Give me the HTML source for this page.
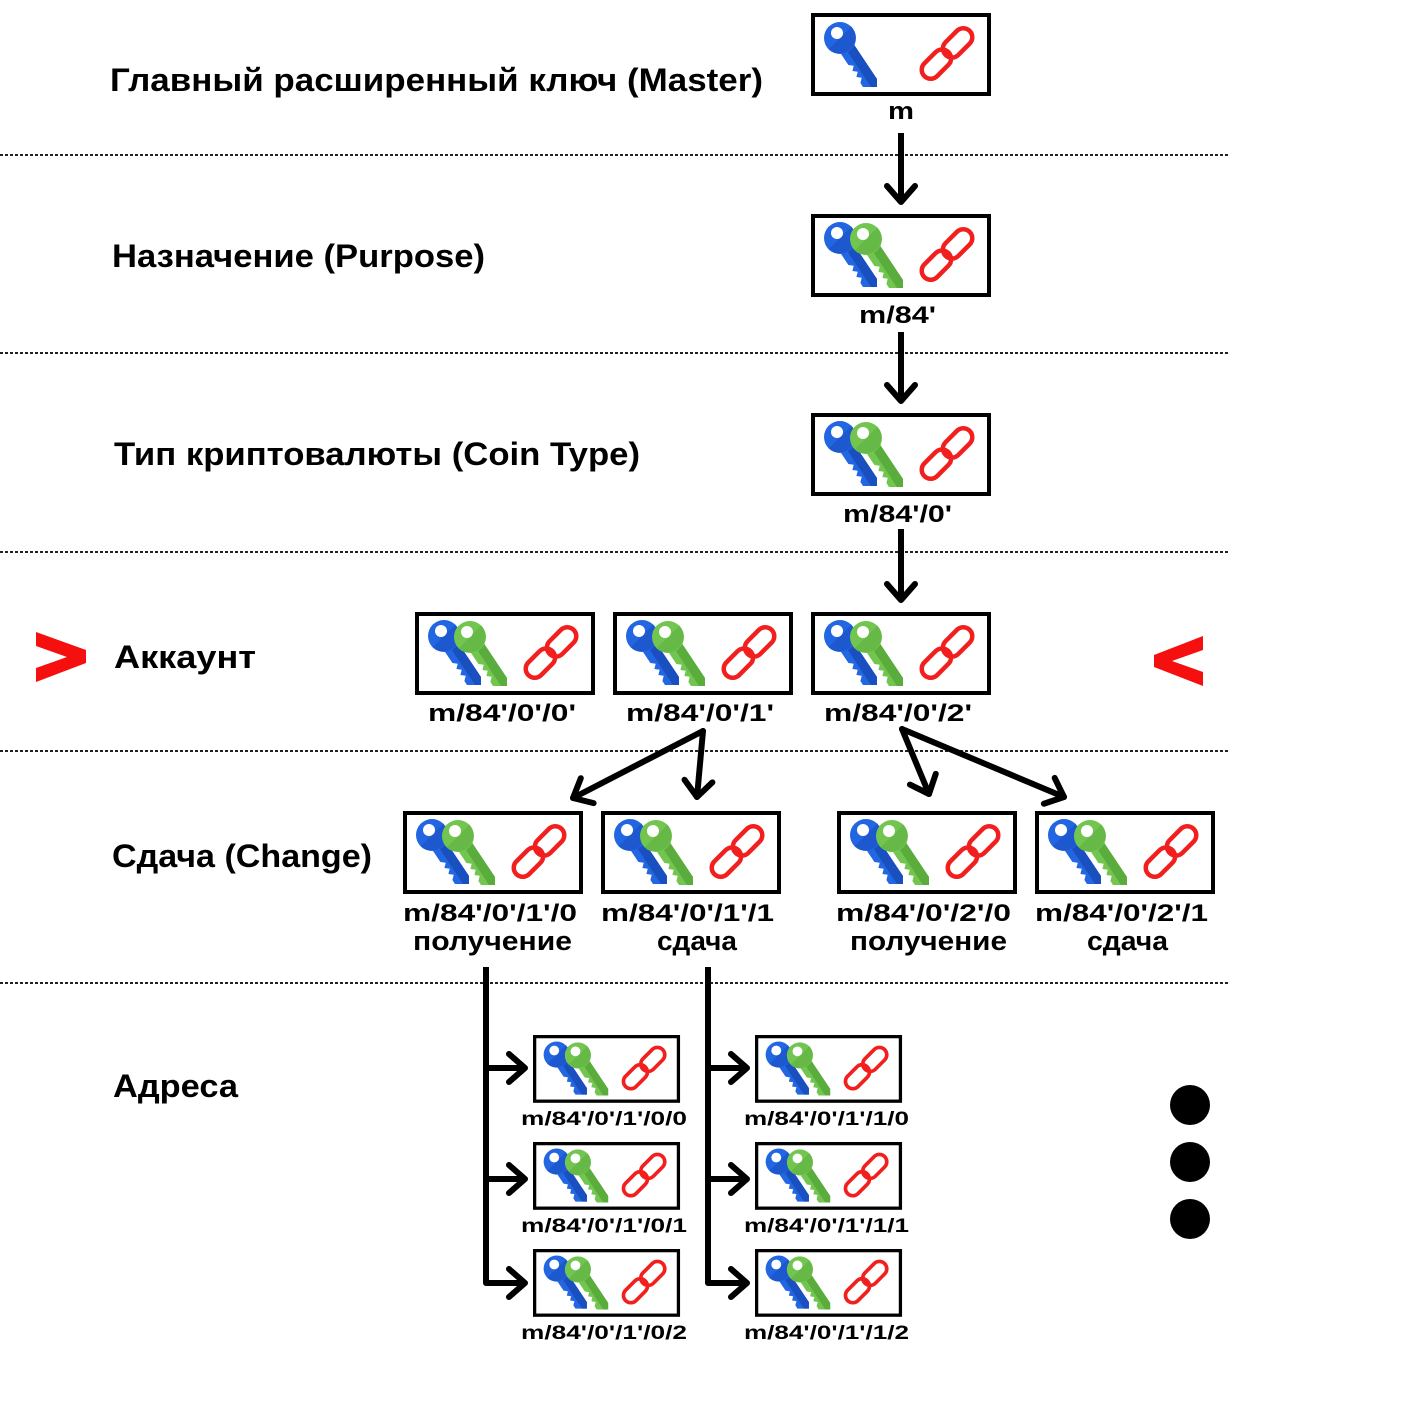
<!DOCTYPE html>
<html>
<head>
<meta charset="utf-8">
<style>
  html,body{margin:0;padding:0;background:#fff;}
  svg{display:block;}
  text{font-family:"Liberation Sans","DejaVu Sans",sans-serif;font-weight:bold;fill:#000;}
</style>
</head>
<body>
<svg width="1428" height="1428" viewBox="0 0 1428 1428" xmlns="http://www.w3.org/2000/svg">
  <defs>
    <marker id="ah" markerUnits="userSpaceOnUse" markerWidth="40" markerHeight="40" viewBox="-20 -20 40 40" refX="0" refY="0" orient="auto" overflow="visible">
      <path d="M-16,-14 L0,0 L-16,14" fill="none" stroke="#000" stroke-width="6" stroke-linecap="round" stroke-linejoin="round"/>
    </marker>
    <g id="kb">
      <polygon fill="#2266e2" points="-6.7,4.4 6.7,-4.4 37,41 37,49 23,49 20.4,45 21.7,39.8 16.4,39 17.7,33.8 12.4,33 13.7,27.8 8.4,27"/>
      <polygon fill="#1a4fbf" points="0,2 6.7,-4.4 37,41 37,49 31,49"/>
      <circle r="16" fill="#2266e2"/>
      <path d="M11.3,-11.3 A16,16 0 0 1 -11.3,11.3 Z" fill="#1d58cf"/>
      <circle cx="-3" cy="-5" r="6" fill="#fff"/>
    </g>
    <g id="kg">
      <polygon fill="#72c650" points="-6.7,4.4 6.7,-4.4 37,41 37,49 23,49 20.4,45 21.7,39.8 16.4,39 17.7,33.8 12.4,33 13.7,27.8 8.4,27"/>
      <polygon fill="#5aad3c" points="0,2 6.7,-4.4 37,41 37,49 31,49"/>
      <circle r="16" fill="#72c650"/>
      <path d="M11.3,-11.3 A16,16 0 0 1 -11.3,11.3 Z" fill="#66b947"/>
      <circle cx="-3" cy="-5" r="6" fill="#fff"/>
    </g>
    <g id="ch" fill="none" stroke="#f21f1f" stroke-width="4.5">
      <rect x="-17" y="-9" width="34" height="18" rx="9" transform="translate(125.4,51.1) rotate(-45)"/>
      <rect x="-17" y="-9" width="34" height="18" rx="9" transform="translate(146.6,29.9) rotate(-45)"/>
    </g>
    <g id="b1">
      <rect x="2" y="2" width="176" height="79" fill="#fff" stroke="#000" stroke-width="4"/>
      <use href="#kb" x="29" y="25"/>
      <use href="#ch"/>
    </g>
    <g id="b2">
      <rect x="2" y="2" width="176" height="79" fill="#fff" stroke="#000" stroke-width="4"/>
      <use href="#kb" x="29" y="24"/>
      <use href="#kg" x="55" y="25"/>
      <use href="#ch"/>
    </g>
  </defs>

  <!-- dotted separators -->
  <g stroke="#222" stroke-width="2" stroke-dasharray="3 2">
    <line x1="0" y1="155" x2="1230" y2="155"/>
    <line x1="0" y1="353" x2="1230" y2="353"/>
    <line x1="0" y1="552" x2="1230" y2="552"/>
    <line x1="0" y1="751" x2="1230" y2="751"/>
    <line x1="0" y1="983" x2="1230" y2="983"/>
  </g>

  <!-- left labels -->
  <g font-size="32">
    <text x="110" y="91" textLength="653" lengthAdjust="spacingAndGlyphs">Главный расширенный ключ (Master)</text>
    <text x="112" y="267" textLength="373" lengthAdjust="spacingAndGlyphs">Назначение (Purpose)</text>
    <text x="114" y="465" textLength="526" lengthAdjust="spacingAndGlyphs">Тип криптовалюты (Coin Type)</text>
    <text x="114" y="668" textLength="142" lengthAdjust="spacingAndGlyphs">Аккаунт</text>
    <text x="112" y="867" textLength="260" lengthAdjust="spacingAndGlyphs">Сдача (Change)</text>
    <text x="113" y="1097" textLength="125" lengthAdjust="spacingAndGlyphs">Адреса</text>
  </g>

  <!-- red chevrons -->
  <polygon fill="#f50f0f" points="36,632 86,650 86,663 36,682 36,668 67,657 36,646"/>
  <polygon fill="#f50f0f" points="1203,636 1203,650 1172,661 1203,672 1203,686 1154,667 1154,655"/>

  <!-- boxes -->
  <use href="#b1" x="811" y="13"/>
  <use href="#b2" x="811" y="214"/>
  <use href="#b2" x="811" y="413"/>
  <use href="#b2" x="415" y="612"/>
  <use href="#b2" x="613" y="612"/>
  <use href="#b2" x="811" y="612"/>
  <use href="#b2" x="403" y="811"/>
  <use href="#b2" x="601" y="811"/>
  <use href="#b2" x="837" y="811"/>
  <use href="#b2" x="1035" y="811"/>

  <g transform="translate(533,1035) scale(0.817)"><use href="#b2"/></g>
  <g transform="translate(533,1142) scale(0.817)"><use href="#b2"/></g>
  <g transform="translate(533,1249) scale(0.817)"><use href="#b2"/></g>
  <g transform="translate(755,1035) scale(0.817)"><use href="#b2"/></g>
  <g transform="translate(755,1142) scale(0.817)"><use href="#b2"/></g>
  <g transform="translate(755,1249) scale(0.817)"><use href="#b2"/></g>

  <!-- box labels -->
  <g font-size="24">
    <text x="888" y="119" textLength="26" lengthAdjust="spacingAndGlyphs">m</text>
    <text x="859" y="323" textLength="77" lengthAdjust="spacingAndGlyphs">m/84'</text>
    <text x="843" y="522" textLength="109" lengthAdjust="spacingAndGlyphs">m/84'/0'</text>
    <text x="428" y="721" textLength="148" lengthAdjust="spacingAndGlyphs">m/84'/0'/0'</text>
    <text x="626" y="721" textLength="148" lengthAdjust="spacingAndGlyphs">m/84'/0'/1'</text>
    <text x="824" y="721" textLength="148" lengthAdjust="spacingAndGlyphs">m/84'/0'/2'</text>
    <text x="403" y="921" textLength="174" lengthAdjust="spacingAndGlyphs">m/84'/0'/1'/0</text>
    <text x="601" y="921" textLength="173" lengthAdjust="spacingAndGlyphs">m/84'/0'/1'/1</text>
    <text x="836" y="921" textLength="175" lengthAdjust="spacingAndGlyphs">m/84'/0'/2'/0</text>
    <text x="1035" y="921" textLength="173" lengthAdjust="spacingAndGlyphs">m/84'/0'/2'/1</text>
  </g>
  <g font-size="27">
    <text x="413" y="950" textLength="159" lengthAdjust="spacingAndGlyphs">получение</text>
    <text x="657" y="950" textLength="80" lengthAdjust="spacingAndGlyphs">сдача</text>
    <text x="850" y="950" textLength="157" lengthAdjust="spacingAndGlyphs">получение</text>
    <text x="1087" y="950" textLength="81" lengthAdjust="spacingAndGlyphs">сдача</text>
  </g>
  <g font-size="19">
    <text x="521" y="1125" textLength="166" lengthAdjust="spacingAndGlyphs">m/84'/0'/1'/0/0</text>
    <text x="521" y="1232" textLength="166" lengthAdjust="spacingAndGlyphs">m/84'/0'/1'/0/1</text>
    <text x="521" y="1339" textLength="166" lengthAdjust="spacingAndGlyphs">m/84'/0'/1'/0/2</text>
    <text x="744" y="1125" textLength="165" lengthAdjust="spacingAndGlyphs">m/84'/0'/1'/1/0</text>
    <text x="744" y="1232" textLength="165" lengthAdjust="spacingAndGlyphs">m/84'/0'/1'/1/1</text>
    <text x="744" y="1339" textLength="165" lengthAdjust="spacingAndGlyphs">m/84'/0'/1'/1/2</text>
  </g>

  <!-- arrows -->
  <g fill="none" stroke="#000" stroke-width="6" stroke-linejoin="round">
    <line x1="901" y1="133" x2="901" y2="202" marker-end="url(#ah)"/>
    <line x1="901" y1="332" x2="901" y2="401" marker-end="url(#ah)"/>
    <line x1="901" y1="529" x2="901" y2="600" marker-end="url(#ah)"/>

    <line x1="703" y1="731" x2="573" y2="798" stroke-linecap="round" marker-end="url(#ah)"/>
    <line x1="703" y1="731" x2="697" y2="797" stroke-linecap="round" marker-end="url(#ah)"/>
    <line x1="902" y1="729" x2="929" y2="794" stroke-linecap="round" marker-end="url(#ah)"/>
    <line x1="902" y1="729" x2="1064" y2="797" stroke-linecap="round" marker-end="url(#ah)"/>

    <path d="M486,967 V1283 H525" marker-end="url(#ah)"/>
    <line x1="486" y1="1068" x2="525" y2="1068" marker-end="url(#ah)"/>
    <line x1="486" y1="1179" x2="525" y2="1179" marker-end="url(#ah)"/>
    <path d="M708,967 V1283 H747" marker-end="url(#ah)"/>
    <line x1="708" y1="1068" x2="747" y2="1068" marker-end="url(#ah)"/>
    <line x1="708" y1="1179" x2="747" y2="1179" marker-end="url(#ah)"/>
  </g>

  <!-- ellipsis dots -->
  <circle cx="1190" cy="1105" r="20" fill="#000"/>
  <circle cx="1190" cy="1162" r="20" fill="#000"/>
  <circle cx="1190" cy="1219" r="20" fill="#000"/>
</svg>
</body>
</html>
